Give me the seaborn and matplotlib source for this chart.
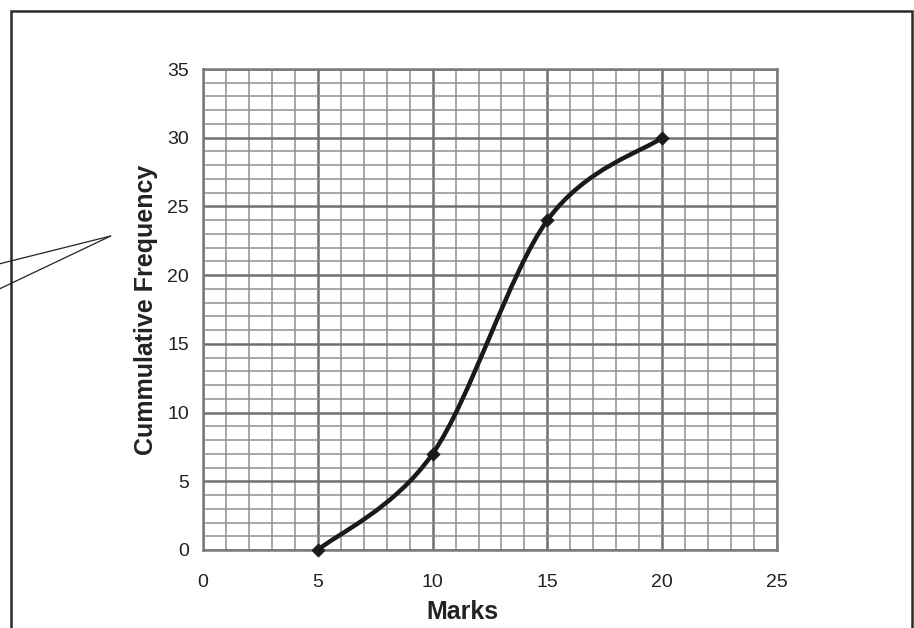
import numpy as np
import pandas as pd
import matplotlib
matplotlib.use("Agg")
import matplotlib.pyplot as plt
import seaborn as sns
from matplotlib.path import Path
from matplotlib.patches import PathPatch, Rectangle
from matplotlib.lines import Line2D

# data
marks = [5, 10, 15, 20]
cum_freq = [0, 7, 24, 30]
x_ticks = [0, 5, 10, 15, 20, 25]
y_ticks = [0, 5, 10, 15, 20, 25, 30, 35]

df = pd.DataFrame({"Marks": marks, "Cummulative Frequency": cum_freq})

sns.set_style("white")
plt.rcParams['font.family'] = ['Liberation Sans', 'DejaVu Sans']

fig = plt.figure(figsize=[9.14, 6.28], dpi=100)
ax = fig.add_axes([203 / 914, 78 / 628, 574 / 914, 481 / 628])

ax.set_xlim(0, 25)
ax.set_ylim(0, 35)

# graph paper grid
ax.set_xticks(x_ticks)
ax.set_yticks(y_ticks)
ax.set_xticks(np.arange(0, 26, 1), minor=True)
ax.set_yticks(np.arange(0, 36, 1), minor=True)
ax.grid(which='minor', color='#8f8f8f', linewidth=1.1, zorder=0)
ax.grid(which='major', color='#707070', linewidth=1.8, zorder=0)
ax.set_axisbelow(True)
for s in ax.spines.values():
    s.set_color('#7a7a7a')
    s.set_linewidth(1.8)

ax.tick_params(axis='y', which='major', length=6, width=1.5, color='#707070',
               labelsize=14, labelcolor='#222222', pad=4)
ax.tick_params(axis='x', which='major', length=0, labelsize=14,
               labelcolor='#222222', pad=17)
ax.tick_params(which='minor', length=0)

# smoothed curve through the points (Catmull-Rom style bezier)
pts = np.column_stack([marks, cum_freq]).astype(float)
ext = np.vstack([pts[0], pts, pts[-1]])
verts = [tuple(pts[0])]
codes = [Path.MOVETO]
for i in range(len(pts) - 1):
    p0, p1, p2, p3 = ext[i], ext[i + 1], ext[i + 2], ext[i + 3]
    c1 = p1 + (p2 - p0) / 6
    c2 = p2 - (p3 - p1) / 6
    verts += [tuple(c1), tuple(c2), tuple(p2)]
    codes += [Path.CURVE4] * 3
curve = PathPatch(Path(verts, codes), facecolor='none', edgecolor='#1a1a1a',
                  linewidth=3.2, capstyle='round', zorder=3)
ax.add_patch(curve)

sns.scatterplot(data=df, x="Marks", y="Cummulative Frequency", marker='D',
                s=45, color='#1a1a1a', edgecolor='#1a1a1a', zorder=4, ax=ax,
                clip_on=False)

ax.set_xlabel("Marks", fontsize=18, fontweight='bold', color='#222222')
ax.xaxis.set_label_coords(0.452, -0.103)
ax.set_ylabel("Cummulative Frequency", fontsize=18, fontweight='bold',
              color='#222222')
ax.yaxis.set_label_coords(-0.078, 0.5)

# callout pointer on the left
for y_end in [263, 290]:
    fig.add_artist(Line2D([110.7 / 914, -0.01], [1 - 236 / 628, 1 - (y_end + 3) / 628],
                          transform=fig.transFigure, color='#222222', linewidth=0.9))

# outer frame
fig.add_artist(Rectangle((10.5 / 914, -0.05), (911.5 - 10.5) / 914, 1.05 - 11 / 628,
                         transform=fig.transFigure, fill=False,
                         edgecolor='#2a2a2a', linewidth=1.8))

fig.savefig("out.png", dpi=100)
